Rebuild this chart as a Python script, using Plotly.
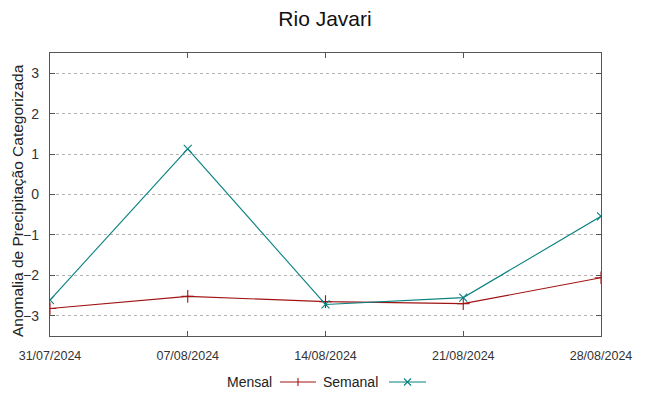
import plotly.graph_objects as go

dates = ["31/07/2024", "07/08/2024", "14/08/2024", "21/08/2024", "28/08/2024"]
mensal = [-2.82, -2.52, -2.65, -2.70, -2.06]
semanal = [-2.61, 1.13, -2.72, -2.55, -0.54]
y_ticks = [-3, -2, -1, 0, 1, 2, 3]

RED = "#a01414"
TEAL = "#0a8080"
AXIS = "#555555"

# the page body adds an 8px margin; size the figure so the plot lands where the reference has it
OFF = 8
W, H = 649 - OFF, 396 - OFF
L, R, T, B = 50 - OFF, 48, 53 - OFF, 60
PW, PH = W - L - R, H - T - B


def px(x):  # page pixel -> paper coordinate
    return (x - OFF - L) / PW


def py(y):
    return (H - B - (y - OFF)) / PH


fig = go.Figure()
fig.add_trace(go.Scatter(
    x=dates, y=mensal, mode="lines+markers", name="Mensal",
    line=dict(color=RED, width=1.1),
    marker=dict(symbol="cross-thin", size=9, line=dict(color=RED, width=1.1)),
    showlegend=False,
))
fig.add_trace(go.Scatter(
    x=dates, y=semanal, mode="lines+markers", name="Semanal",
    line=dict(color=TEAL, width=1.1),
    marker=dict(symbol="x-thin", size=8, line=dict(color=TEAL, width=1.1)),
    showlegend=False,
))

# gnuplot-style legend below the plot: text first, then line sample
shapes = []
annotations = []
leg_y = 382
items = [("Mensal", RED, 274, 280, 316, "+"), ("Semanal", TEAL, 380, 389, 426, "x")]
for name, col, text_right, x0, x1, sym in items:
    annotations.append(dict(
        text=name, x=px(text_right), y=py(leg_y), xref="paper", yref="paper",
        xanchor="right", yanchor="middle", showarrow=False,
        font=dict(size=14, color="#222222", family="Liberation Sans, Arial, sans-serif"),
    ))
    shapes.append(dict(type="line", xref="paper", yref="paper",
                       x0=px(x0), x1=px(x1), y0=py(leg_y), y1=py(leg_y),
                       line=dict(color=col, width=1.1)))
    cx = (x0 + x1) / 2
    if sym == "+":
        shapes.append(dict(type="line", xref="paper", yref="paper",
                           x0=px(cx), x1=px(cx), y0=py(leg_y - 4), y1=py(leg_y + 4),
                           line=dict(color=col, width=1.1)))
    else:
        shapes.append(dict(type="line", xref="paper", yref="paper",
                           x0=px(cx - 3.5), x1=px(cx + 3.5), y0=py(leg_y - 3.5), y1=py(leg_y + 3.5),
                           line=dict(color=col, width=1.1)))
        shapes.append(dict(type="line", xref="paper", yref="paper",
                           x0=px(cx - 3.5), x1=px(cx + 3.5), y0=py(leg_y + 3.5), y1=py(leg_y - 3.5),
                           line=dict(color=col, width=1.1)))

# y-axis title placed like gnuplot's
annotations.append(dict(
    text="Anomalia de Precipitação Categorizada", textangle=-90,
    x=px(18), y=py(201), xref="paper", yref="paper",
    xanchor="center", yanchor="middle", showarrow=False,
    font=dict(size=15.5, color="#222222"),
))

fig.update_layout(
    width=W, height=H,
    margin=dict(l=L, r=R, t=T, b=B),
    paper_bgcolor="white", plot_bgcolor="white",
    font=dict(family="Liberation Sans, Arial, sans-serif", color="#222222", size=14),
    title=dict(text="Rio Javari", x=(325 - OFF) / W, xanchor="center", y=1 - (19 - OFF) / H,
               yanchor="middle", yref="container", font=dict(size=21, color="#111111")),
    shapes=shapes, annotations=annotations,
    showlegend=False,
)
fig.update_xaxes(
    type="category", range=[0, len(dates) - 1], automargin=False,
    showgrid=False, zeroline=False,
    showline=True, linecolor=AXIS, linewidth=1.3, mirror="ticks",
    ticks="inside", ticklen=5, tickcolor=AXIS, tickwidth=1,
    tickfont=dict(size=12.5, color="#333333"),
    ticklabelstandoff=8,
)
fig.update_yaxes(
    range=[-3.5, 3.5], tickvals=y_ticks, automargin=False,
    showgrid=True, gridcolor="#b4b4b4", griddash="dot", gridwidth=1,
    zeroline=False,
    showline=True, linecolor=AXIS, linewidth=1.3, mirror="ticks",
    ticks="inside", ticklen=5, tickcolor=AXIS, tickwidth=1,
    tickfont=dict(size=14, color="#333333"),
    ticklabelstandoff=7,
)

fig.write_html("out.html")
